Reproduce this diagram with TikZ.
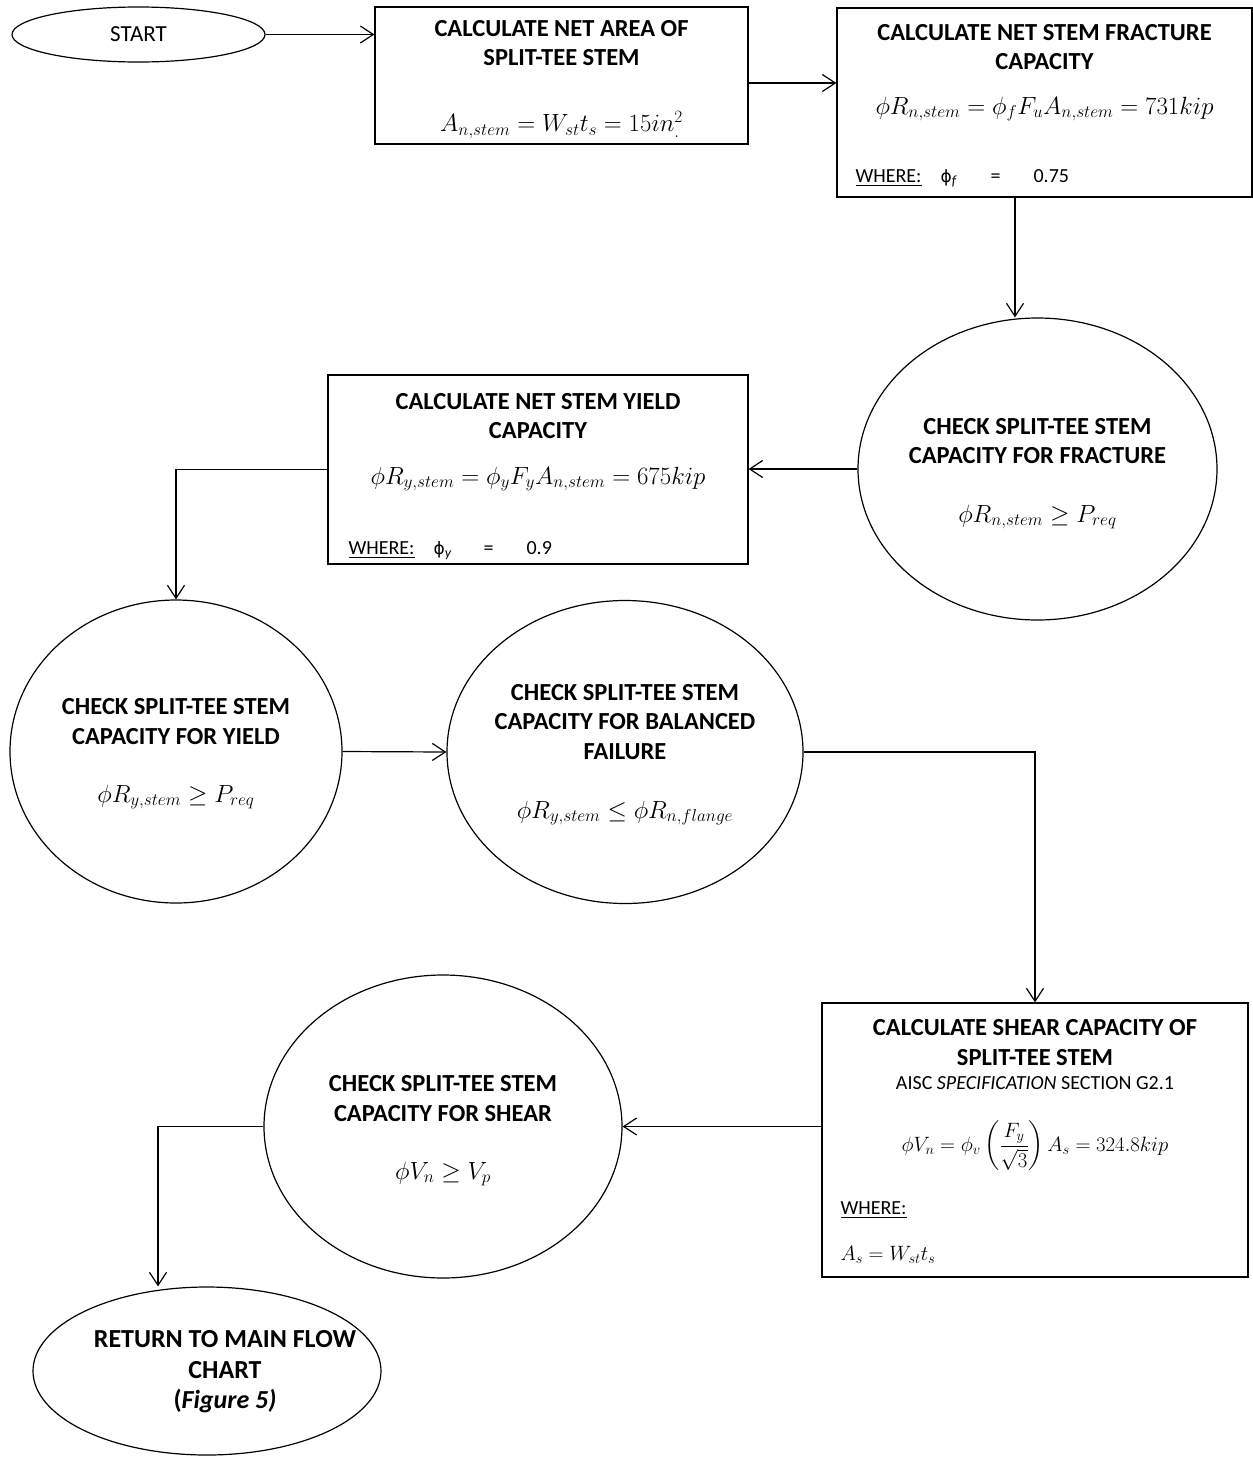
\documentclass[tikz,border=0pt]{standalone}
\usepackage{fontspec}
\setmainfont{Carlito}
\newfontfamily\dvsans{DejaVu Sans}
\usepackage{amsmath}
\usetikzlibrary{shapes.geometric,arrows.meta}
\newcommand\whererow[2]{\makebox[85pt][l]{\underline{WHERE:}}\makebox[50pt][l]{{\dvsans\fontsize{17}{20}\selectfont ϕ}\textsubscript{\textit{#1}}}\makebox[43pt][l]{=}#2}
\begin{document}
\begin{tikzpicture}[x=1pt,y=-1pt,
  line width=1.2pt,
  box/.style={draw,rectangle,inner sep=0pt},
  oval/.style={draw,ellipse,inner sep=0pt},
  arr/.style={-{Straight Barb[length=13pt,width=17pt]}},
  ttl/.style={font=\fontsize{24.5}{29.5}\selectfont\bfseries,align=center,inner sep=0pt,text=black},
  txt/.style={font=\fontsize{20}{24}\selectfont,inner sep=0pt,text=black},
  eq/.style={font=\fontsize{27}{31}\selectfont,inner sep=0pt,text=black},
]
\useasboundingbox (0,0) rectangle (1253,1457);

% shapes
\node[oval,minimum width=253pt,minimum height=55pt,font=\fontsize{23}{27}\selectfont,text=black] (start) at (138.5,34.5) {START};
\node[box,minimum width=373pt,minimum height=137pt] (b1) at (561.5,75.5) {};
\node[box,minimum width=415pt,minimum height=189pt] (b2) at (1044.5,102.5) {};
\node[oval,minimum width=359pt,minimum height=302pt] (frac) at (1037.5,469) {};
\node[box,minimum width=420pt,minimum height=189pt] (b3) at (538,469.5) {};
\node[oval,minimum width=332pt,minimum height=303pt] (yield) at (176,751.5) {};
\node[oval,minimum width=356pt,minimum height=303pt] (bal) at (625,752) {};
\node[box,minimum width=426pt,minimum height=274pt] (b4) at (1035,1140) {};
\node[oval,minimum width=358pt,minimum height=303pt] (shear) at (443,1126.5) {};
\node[oval,minimum width=348pt,minimum height=168pt] (ret) at (207,1371) {};

% texts
\node[ttl] (t1) at (561.5,43) {CALCULATE NET AREA OF\\SPLIT-TEE STEM};
\node[eq] (e1) at (561.5,125) {$A_{n,stem}=W_{st}t_s=15in^2_{.}$};

\node[ttl] (t2) at (1044.5,47) {CALCULATE NET STEM FRACTURE\\CAPACITY};
\node[eq] (e2) at (1044.5,109) {$\phi R_{n,stem}=\phi_f F_u A_{n,stem}=731kip$};
\node[txt,anchor=base west] (w2) at (855,182) {\whererow{f}{0.75}};

\node[ttl] (t3) at (1037.5,441) {CHECK SPLIT-TEE STEM\\CAPACITY FOR FRACTURE};
\node[eq] (e3) at (1037.5,517) {$\phi R_{n,stem}\geq P_{req}$};

\node[ttl] (t4) at (538,416) {CALCULATE NET STEM YIELD\\CAPACITY};
\node[eq] (e4) at (538,479) {$\phi R_{y,stem}=\phi_y F_y A_{n,stem}=675kip$};
\node[txt,anchor=base west] (w4) at (348,554) {\whererow{y}{0.9}};

\node[ttl] (t5) at (176,721.5) {CHECK SPLIT-TEE STEM\\CAPACITY FOR YIELD};
\node[eq] (e5) at (176,797) {$\phi R_{y,stem}\geq P_{req}$};

\node[ttl] (t6) at (625,722) {CHECK SPLIT-TEE STEM\\CAPACITY FOR BALANCED\\FAILURE};
\node[eq] (e6) at (625,813) {$\phi R_{y,stem}\leq \phi R_{n,flange}$};

\node[ttl] (t7) at (1035,1042.5) {CALCULATE SHEAR CAPACITY OF\\SPLIT-TEE STEM};
\node[txt] (s7) at (1035,1083) {AISC \textit{SPECIFICATION} SECTION G2.1};
\node[eq,font=\fontsize{21.5}{25}\selectfont] (e7) at (1035,1146) {$\phi V_n=\phi_v\left(\dfrac{F_y}{\sqrt{3}}\right)A_s=324.8kip$};
\node[txt,anchor=base west] (w7) at (840,1214) {\underline{WHERE:}};
\node[eq,anchor=west,font=\fontsize{19.5}{23}\selectfont] (a7) at (840,1255) {$A_s=W_{st}t_s$};

\node[ttl] (t8) at (443,1098.5) {CHECK SPLIT-TEE STEM\\CAPACITY FOR SHEAR};
\node[eq] (e8) at (443,1174) {$\phi V_n\geq V_p$};

\node[ttl,font=\fontsize{26}{30.5}\selectfont\bfseries] (t9) at (225,1372) {RETURN TO MAIN FLOW\\CHART\\(\textit{Figure 5)}};

% connectors
\draw[arr] (start.east) -- (start.east -| b1.west);
\draw[arr] (b1.east |- 0,83) -- (b2.west |- 0,83);
\draw[arr] (b2.south -| 1015,0) -- (frac.north -| 1015,0);
\draw[arr] (frac.west) -- (frac.west -| b3.east);
\draw[arr] (b3.west) -| (yield.north);
\draw[arr] (yield.east) -- (bal.west);
\draw[arr] (bal.east) -| (b4.north);
\draw[arr] (b4.west |- shear.east) -- (shear.east);
\draw[arr] (shear.west) -| (ret.north -| 158,0);
\end{tikzpicture}
\end{document}
